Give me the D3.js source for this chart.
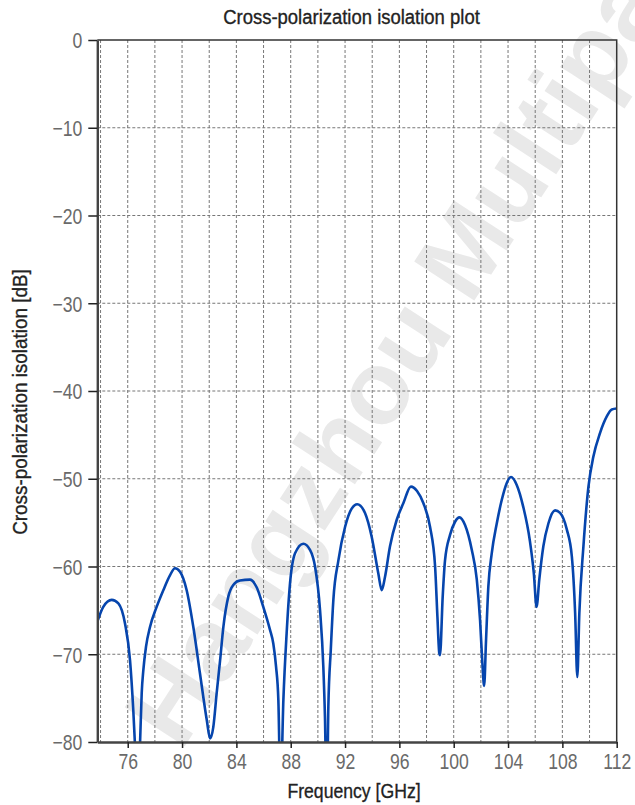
<!DOCTYPE html>
<html>
<head>
<meta charset="utf-8">
<script src="https://cdn.jsdelivr.net/npm/d3@7"></script>
<style>
  body { margin: 0; background: #fff; }
  svg { display: block; }
</style>
</head>
<body>
<svg id="chart"></svg>
<script>
// cross-pol isolation, values
const freqGHz = [
  73.76, 74.2, 74.82, 75.31, 75.8, 76.17, 76.41, 76.54, 76.72, 76.9, 77.03, 77.15, 77.35, 77.64,
  78.13, 78.62, 79.11, 79.48, 79.85, 80.34, 80.83, 81.32, 81.82, 82.06, 82.3, 82.55, 82.8,
  83.04, 83.41, 83.77, 84.27, 85.0, 85.5, 85.98, 86.47, 86.72, 86.92, 87.09, 87.25, 87.46,
  87.7, 87.95, 88.32, 88.93, 89.42, 89.79, 90.16, 90.4, 90.52, 90.66, 90.77, 90.95, 91.14,
  91.51, 92.0, 92.49, 92.9, 93.47, 93.96, 94.45, 94.7, 94.94, 95.31, 95.8, 96.29, 96.85,
  97.3, 97.77, 98.26, 98.63, 98.8, 98.94, 98.99, 99.19, 99.36, 99.73, 100.1, 100.42, 100.84,
  101.33, 101.7, 101.94, 102.11, 102.24, 102.38, 102.55, 102.8, 103.17, 103.54, 103.9, 104.22,
  104.64, 105.12, 105.6, 105.9, 106.1, 106.3, 106.6, 106.97, 107.46, 107.83, 108.33, 108.7,
  108.94, 109.1, 109.25, 109.55, 109.92, 110.28, 110.77, 111.27, 111.64, 112.0
];
const isolationDb = [
  -66.3, -64.6, -63.8, -64.2, -66.5, -70.7, -76.4, -80.5, -88, -80.5, -74.4, -71.8, -69.1, -66.9,
  -64.6, -62.7, -61.0, -60.2, -60.6, -62.7, -66.9, -72.2, -77.5, -79.6, -78.3, -74.4, -70.7,
  -66.9, -63.4, -62.1, -61.6, -61.5, -62.4, -64.6, -67.2, -68.8, -71.4, -75.2, -86, -75.2,
  -67.6, -61.9, -58.5, -57.4, -58.1, -60.0, -65.0, -71.4, -77.1, -88, -76.0, -69.5, -63.8,
  -59.3, -55.5, -53.4, -52.9, -53.9, -56.6, -60.8, -62.7, -61.2, -57.7, -54.7, -52.8, -50.9,
  -51.4, -52.8, -55.5, -60.0, -65.7, -69.9, -70.1, -63.4, -59.3, -56.4, -54.9, -54.4, -55.3,
  -58.1, -61.5, -66.1, -71.0, -73.6, -68.4, -62.3, -58.5, -55.1, -52.4, -50.5, -49.8,
  -50.7, -53.2, -57.0, -60.8, -64.6, -61.5, -57.7, -55.1, -53.6, -53.9, -55.8, -58.9,
  -65.3, -72.6, -65.3, -57.7, -50.9, -47.5, -44.8, -42.9, -42.1, -42.0
];
const xTicks = [76, 80, 84, 88, 92, 96, 100, 104, 108, 112];
const xGridLines = [74, 76, 78, 80, 82, 84, 86, 88, 90, 92, 94, 96, 98, 100, 102, 104, 106, 108, 110];
const yTicks = [0, -10, -20, -30, -40, -50, -60, -70, -80];
const yGridLines = [-10, -20, -30, -40, -50, -60, -70];

const W = 635, H = 805;
const margin = {top: 40, right: 18.3, bottom: 63, left: 97.3};
const width = W - margin.left - margin.right;
const height = H - margin.top - margin.bottom;
// no condensed face installed, so squeeze Liberation Sans horizontally
const font = '"Liberation Sans", Arial, sans-serif';

const svg = d3.select("#chart").attr("width", W).attr("height", H);

// watermark (runs off the top-right corner like in the original)
svg.append("text")
    .attr("transform", "translate(181,752) rotate(-57)")
    .style("font-family", font)
    .style("font-weight", "bold")
    .style("font-size", "104px")
    .style("fill", "#e9e9e9")
    .text("Hangzhou Multipath");

const g = svg.append("g")
    .attr("transform", "translate(" + margin.left + "," + margin.top + ")");

const x = d3.scaleLinear().domain([73.76, 112]).range([0, width]);
const y = d3.scaleLinear().domain([-80, 0]).range([height, 0]);

// grid
g.selectAll(".vgrid")
    .data(xGridLines)
    .join("line")
        .attr("x1", d => x(d)).attr("x2", d => x(d))
        .attr("y1", 0).attr("y2", height)
        .style("stroke", "#777")
        .style("stroke-width", 1)
        .style("stroke-dasharray", "3,2");

g.selectAll(".hgrid")
    .data(yGridLines)
    .join("line")
        .attr("x1", 0).attr("x2", width)
        .attr("y1", d => y(d)).attr("y2", d => y(d))
        .style("stroke", "#777")
        .style("stroke-width", 1)
        .style("stroke-dasharray", "3,2");

// curve
g.append("clipPath").attr("id", "clip")
    .append("rect").attr("width", width).attr("height", height);

const line = d3.line()
    .x((d, i) => x(freqGHz[i]))
    .y(d => y(d))
    .curve(d3.curveMonotoneX);

g.append("path")
    .datum(isolationDb)
    .attr("clip-path", "url(#clip)")
    .attr("d", line)
    .style("fill", "none")
    .style("stroke", "#0645ad")
    .style("stroke-width", 2.6)
    .style("stroke-linejoin", "round");

// top + right frame
g.append("path")
    .attr("d", "M0,0H" + width + "V" + height)
    .style("fill", "none")
    .style("stroke", "#333")
    .style("stroke-width", 1.5);

// axes
const sx = 0.8;
const xAxis = g.append("g")
    .attr("transform", "translate(0," + height + ")")
    .call(d3.axisBottom(x).tickValues(xTicks).tickSize(6).tickSizeOuter(0).tickPadding(5).tickFormat(d3.format("d")));
const yAxis = g.append("g")
    .call(d3.axisLeft(y).tickValues(yTicks).tickSize(9).tickSizeOuter(0).tickPadding(6)
        .tickFormat(d => d < 0 ? "\u2212" + Math.abs(d) : d));

[xAxis, yAxis].forEach(a => {
    a.select(".domain").style("stroke", "#444").style("stroke-width", 2.4);
    a.selectAll(".tick line").style("stroke", "#222").style("stroke-width", 1.5);
    a.selectAll(".tick text")
        .attr("transform", "scale(" + sx + ",1)")
        .style("font-family", font)
        .style("font-size", "22px")
        .style("fill", "#6a6a6a");
});
yAxis.selectAll(".tick text").attr("x", -15 / sx).attr("dy", "0.36em");

// titles
function label(transform, txt) {
    svg.append("text")
        .attr("transform", transform)
        .style("text-anchor", "middle")
        .style("font-family", font)
        .style("font-size", "21px")
        .style("fill", "#222")
        .style("stroke", "#222")
        .style("stroke-width", 0.35)
        .text(txt);
}
label("translate(351.5,24) scale(0.88,1)", "Cross-polarization isolation plot");
label("translate(354,798) scale(0.84,1)", "Frequency [GHz]");
label("translate(27,402) rotate(-90) scale(0.9,1)", "Cross-polarization isolation [dB]");
</script>
</body>
</html>
